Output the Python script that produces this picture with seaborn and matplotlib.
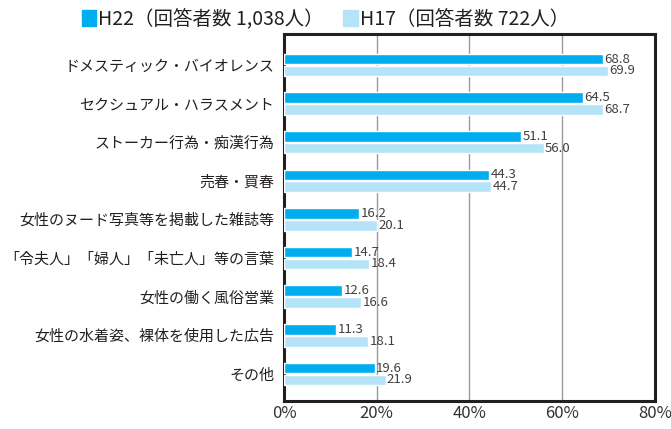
import pandas as pd
import matplotlib
matplotlib.use("Agg")
import matplotlib.pyplot as plt
import seaborn as sns

# datos
categorias = [
    "ドメスティック・バイオレンス",
    "セクシュアル・ハラスメント",
    "ストーカー行為・痴漢行為",
    "売春・買春",
    "女性のヌード写真等を掲載した雑誌等",
    "「令夫人」「婦人」「未亡人」等の言葉",
    "女性の働く風俗営業",
    "女性の水着姿、裸体を使用した広告",
    "その他",
]
h22 = [68.8, 64.5, 51.1, 44.3, 16.2, 14.7, 12.6, 11.3, 19.6]
h17 = [69.9, 68.7, 56.0, 44.7, 20.1, 18.4, 16.6, 18.1, 21.9]
series = ["H22（回答者数 1,038人）", "H17（回答者数 722人）"]
ticks = [0, 20, 40, 60, 80]

df = pd.DataFrame({"categoria": categorias * 2,
                   "valor": h22 + h17,
                   "serie": [series[0]] * len(h22) + [series[1]] * len(h17)})

sns.set_style("white")
plt.rcParams['font.family'] = ['Noto Sans CJK JP', 'DejaVu Sans']

colores = {series[0]: "#00AEEF", series[1]: "#B5E3F8"}

fig = plt.figure(figsize=(6.71, 4.29), dpi=100)
ax = fig.add_axes([0.4232, 0.0653, 0.5530, 0.8554])

sns.barplot(data=df, y="categoria", x="valor", hue="serie", order=categorias,
            hue_order=series, palette=colores, orient="h", width=0.61, gap=0.1,
            saturation=1, ax=ax, legend=False, zorder=3)

for cont in ax.containers:
    ax.bar_label(cont, fmt="%.1f", padding=1, fontsize=9.5, color="#404040")

ax.set_xlim(0, 80)
ax.set_ylim(8.7, -0.8)
ax.set_xticks(ticks)
ax.set_xticklabels([f"{t}%" for t in ticks], fontsize=12, color="#333333")
ax.tick_params(axis="y", labelsize=10.8, labelcolor="#231f20", length=0, pad=7)
ax.tick_params(axis="x", length=0, pad=3)
ax.grid(axis="x", color="#9a9a9a", linewidth=1, zorder=0)
ax.set_axisbelow(True)
for s in ax.spines.values():
    s.set_visible(True)
    s.set_linewidth(2.2)
    s.set_color("#231f20")
ax.set_xlabel("")
ax.set_ylabel("")

# leyenda arriba
handles = [plt.Rectangle((0, 0), 1, 1, color=colores[s]) for s in series]
fig.legend(handles, series, loc="upper center", bbox_to_anchor=(0.485, 1.02), ncol=2,
           frameon=False, fontsize=14, handlelength=0.75, handleheight=0.85,
           handletextpad=0.1, columnspacing=1.0, labelcolor="#231f20")

fig.savefig("out.png", dpi=100)
